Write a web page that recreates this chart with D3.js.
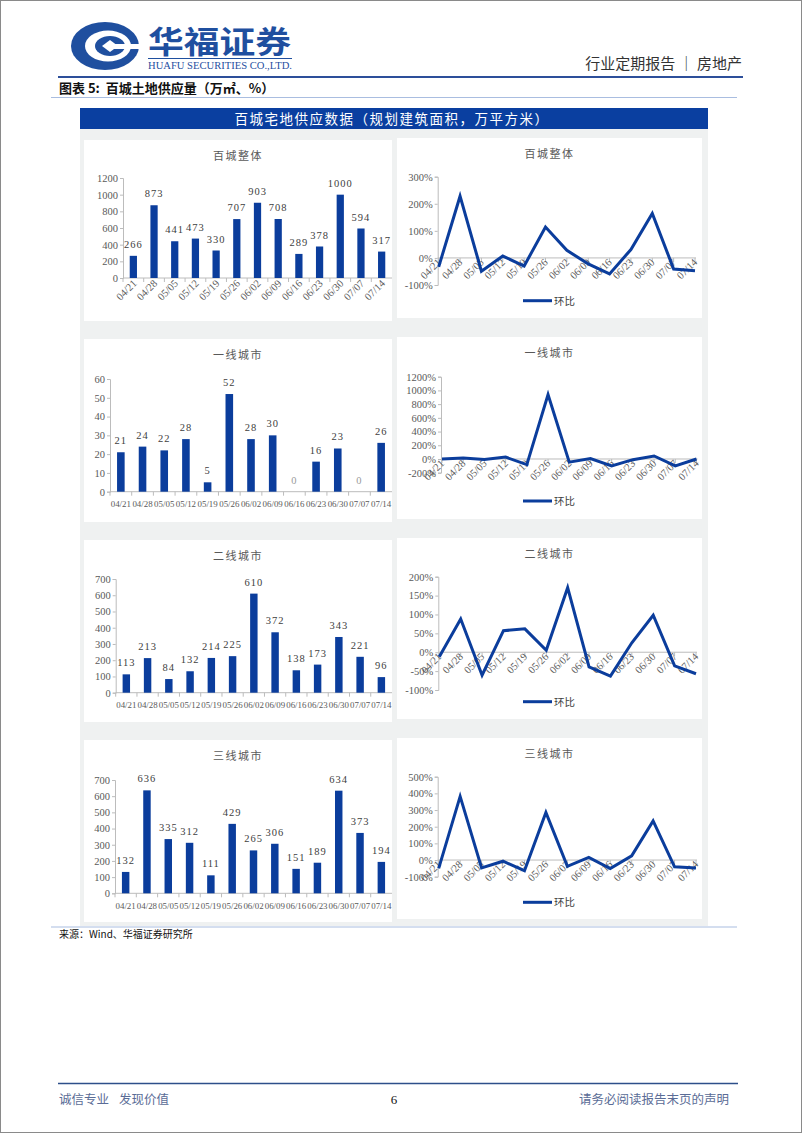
<!DOCTYPE html>
<html><head><meta charset="utf-8">
<script src="https://cdn.jsdelivr.net/npm/d3@7"></script>
<style>
body{margin:0;background:#fff;}
svg{display:block;}
text{white-space:pre;}
</style></head>
<body>
<svg id="page" width="802" height="1133"></svg>
<script>
// ---------- DATA ----------
const categories = ["04/21","04/28","05/05","05/12","05/19","05/26","06/02","06/09","06/16","06/23","06/30","07/07","07/14"];
const totalSupply = [266, 873, 441, 473, 330, 707, 903, 708, 289, 378, 1000, 594, 317];
const totalMoM    = [-33, 228, -49, 7, -30, 114, 28, -22, -59, 31, 164, -41, -47];
const tier1Supply = [21, 24, 22, 28, 5, 52, 28, 30, 0, 16, 23, 0, 26];
const tier1MoM    = [0, 14, -8, 27, -82, 940, -46, 7, -100, -10, 44, -100, 0];
const tier2Supply = [113, 213, 84, 132, 214, 225, 610, 372, 138, 173, 343, 221, 96];
const tier2MoM    = [-12, 88, -61, 57, 62, 5, 171, -39, -63, 25, 98, -36, -57];
const tier3Supply = [132, 636, 335, 312, 111, 429, 265, 306, 151, 189, 634, 373, 194];
const tier3MoM    = [-50, 382, -47, -7, -64, 286, -38, 16, -51, 25, 235, -41, -48];

const chartTitles = ["百城整体", "一线城市", "二线城市", "三线城市"];
const totalTicks = [0, 200, 400, 600, 800, 1000, 1200];
const tier1Ticks = [0, 10, 20, 30, 40, 50, 60];
const tier2Ticks = [0, 100, 200, 300, 400, 500, 600, 700];
const tier3Ticks = [0, 100, 200, 300, 400, 500, 600, 700];
const totalMoMTicks = [-100, 0, 100, 200, 300];
const tier1MoMTicks = [-200, 0, 200, 400, 600, 800, 1000, 1200];
const tier2MoMTicks = [-100, -50, 0, 50, 100, 150, 200];
const tier3MoMTicks = [-100, 0, 100, 200, 300, 400, 500];
const legendLabel = "环比";

// ---------- STYLE ----------
const BLUE = "#0b3d9c";
const AXIS = "#bcbcbc";
const TXT = "#595959";
const SERIF = "'Liberation Serif','DejaVu Serif',serif";
const CJK = "'Noto Sans CJK SC','Noto Sans',sans-serif";

const svg = d3.select("#page");

// page border
svg.append("rect").attr("x",0.5).attr("y",0.5).attr("width",801).attr("height",1132)
  .attr("fill","#fff").attr("stroke","#8a8a8a");

// ---------- HEADER ----------
const logo = svg.append("g");
logo.append("ellipse").attr("cx",105).attr("cy",46).attr("rx",34).attr("ry",24).attr("fill","#1f4f9f");
logo.append("ellipse").attr("cx",108).attr("cy",46).attr("rx",23).attr("ry",15.5).attr("fill","#fff");
logo.append("ellipse").attr("cx",110).attr("cy",46).attr("rx",15).attr("ry",10).attr("fill","#1f4f9f");
logo.append("path").attr("d","M110,40 L118,46 L110,52 L102,46 Z").attr("fill","#fff");
logo.append("rect").attr("x",112).attr("y",44).attr("width",28).attr("height",5).attr("fill","#fff");

svg.append("text").attr("x",148).attr("y",53).attr("font-family",CJK).attr("font-weight","bold")
  .attr("font-size",31).attr("fill","#1f4f9f").attr("textLength",143).attr("lengthAdjust","spacingAndGlyphs")
  .text("华福证券");
svg.append("line").attr("x1",148).attr("x2",292).attr("y1",58.5).attr("y2",58.5).attr("stroke","#1f4f9f").attr("stroke-width",1);
svg.append("text").attr("x",148).attr("y",69).attr("font-family",SERIF).attr("font-size",10.5)
  .attr("fill","#1f4f9f").attr("textLength",144).attr("lengthAdjust","spacingAndGlyphs")
  .text("HUAFU SECURITIES CO.,LTD.");

svg.append("text").attr("x",742).attr("y",69).attr("text-anchor","end").attr("font-family",CJK)
  .attr("font-size",15).attr("fill","#333").text("行业定期报告 ｜ 房地产");

svg.append("line").attr("x1",58).attr("x2",743).attr("y1",77).attr("y2",77).attr("stroke","#2d4f9a").attr("stroke-width",2);
svg.append("text").attr("x",59).attr("y",93).attr("font-family",CJK).attr("font-weight","bold")
  .attr("font-size",13).attr("fill","#111").text("图表 5:  百城土地供应量（万㎡、%）");
svg.append("line").attr("x1",51).attr("x2",737).attr("y1",97.5).attr("y2",97.5).attr("stroke","#a9bde0").attr("stroke-width",1);

// chart container
svg.append("rect").attr("x",80).attr("y",108).attr("width",628).attr("height",818).attr("fill","#eff1f1");
svg.append("rect").attr("x",80).attr("y",108).attr("width",628).attr("height",21).attr("fill","#0a3fa0");
svg.append("text").attr("x",392).attr("y",123.5).attr("text-anchor","middle").attr("font-family",CJK)
  .attr("font-size",13.5).attr("fill","#fff").attr("letter-spacing",1.5)
  .text("百城宅地供应数据（规划建筑面积，万平方米）");

// footer
svg.append("line").attr("x1",51).attr("x2",737).attr("y1",927).attr("y2",927).attr("stroke","#a9bde0").attr("stroke-width",1);
svg.append("text").attr("x",59).attr("y",938).attr("font-family",CJK).attr("font-size",10).attr("fill","#111")
  .text("来源：Wind、华福证券研究所");
svg.append("line").attr("x1",58).attr("x2",738).attr("y1",1083.5).attr("y2",1083.5).attr("stroke","#2d4f8a").attr("stroke-width",1.6);
svg.append("text").attr("x",59).attr("y",1104).attr("font-family",CJK).attr("font-size",12.5).attr("fill","#5a6c96")
  .text("诚信专业");
svg.append("text").attr("x",119).attr("y",1104).attr("font-family",CJK).attr("font-size",12.5).attr("fill","#5a6c96")
  .text("发现价值");
svg.append("text").attr("x",394).attr("y",1104).attr("text-anchor","middle").attr("font-family",SERIF).attr("font-size",13).attr("fill","#111")
  .text("6");
svg.append("text").attr("x",729).attr("y",1104).attr("text-anchor","end").attr("font-family",CJK).attr("font-size",12.5).attr("fill","#5a6c96")
  .text("请务必阅读报告末页的声明");

// ---------- CHART HELPERS ----------
function panel(x0, y0, x1, y1){
  svg.append("rect").attr("x",x0).attr("y",y0).attr("width",x1-x0).attr("height",y1-y0).attr("fill","#fff");
}
function title(cx, cy, t){
  svg.append("text").attr("x",cx).attr("y",cy+4).attr("text-anchor","middle").attr("font-family",CJK)
    .attr("font-size",11).attr("letter-spacing",1.5).attr("fill",TXT).text(t);
}

function barChart(cfg){
  const g = svg.append("g");
  const x = d3.scaleBand().domain(categories).range([cfg.left, cfg.right]).paddingInner(0.65).paddingOuter(0.325);
  const y = d3.scaleLinear().domain([0, d3.max(cfg.ticks)]).range([cfg.zero, cfg.top]);
  const step = x.step(), gap = (step - x.bandwidth())/2;

  const ya = d3.axisLeft(y).tickValues(cfg.ticks).tickSize(3).tickPadding(2).tickFormat(d3.format("d"));
  const yg = g.append("g").attr("transform",`translate(${cfg.left},0)`).call(ya);
  yg.select(".domain").attr("stroke",AXIS);
  yg.selectAll(".tick line").attr("stroke",AXIS);
  yg.selectAll(".tick text").attr("font-family",SERIF).attr("font-size",10.5).attr("fill",TXT);

  g.append("line").attr("x1",cfg.left).attr("x2",cfg.right).attr("y1",cfg.zero).attr("y2",cfg.zero).attr("stroke",AXIS);
  g.selectAll(".bt").data(categories).join("line")
    .attr("x1",d=>x(d)-gap).attr("x2",d=>x(d)-gap).attr("y1",cfg.zero).attr("y2",cfg.zero+4).attr("stroke",AXIS);

  g.selectAll(".bar").data(cfg.values).join("rect")
    .attr("x",(d,i)=>x(categories[i])).attr("width",x.bandwidth())
    .attr("y",d=>y(d)).attr("height",d=>cfg.zero-y(d)).attr("fill",BLUE);

  g.selectAll(".vl").data(cfg.values).join("text")
    .attr("x",(d,i)=>x(categories[i])+x.bandwidth()/2).attr("y",d=>y(d)-8)
    .attr("text-anchor","middle").attr("font-family",SERIF).attr("font-size",10.5).attr("letter-spacing",1)
    .attr("fill",d=>d===0?"#9a9a9a":"#404040").text(d=>d);

  if(cfg.rotate){
    g.selectAll(".xl").data(categories).join("text")
      .attr("transform",d=>`translate(${x(d)+x.bandwidth()/2+4},${cfg.zero+6}) rotate(-45)`)
      .attr("text-anchor","end").attr("font-family",SERIF).attr("font-size",10.5).attr("fill",TXT).text(d=>d);
  } else {
    g.selectAll(".xl").data(categories).join("text")
      .attr("x",d=>x(d)+x.bandwidth()/2).attr("y",cfg.labelY+4)
      .attr("text-anchor","middle").attr("font-family",SERIF).attr("font-size",8.9)
      .attr("fill",TXT).text(d=>d);
  }
}

function lineChart(cfg){
  const g = svg.append("g");
  const x = d3.scalePoint().domain(categories).range([cfg.left+1, cfg.right]);
  const y = d3.scaleLinear().domain([d3.min(cfg.ticks), d3.max(cfg.ticks)]).range([cfg.bottom, cfg.top]);
  const z = y(0);

  const ya = d3.axisLeft(y).tickValues(cfg.ticks).tickSize(3).tickPadding(2).tickFormat(d=>d+"%");
  const yg = g.append("g").attr("transform",`translate(${cfg.left},0)`).call(ya);
  yg.select(".domain").attr("stroke",AXIS);
  yg.selectAll(".tick line").attr("stroke",AXIS);
  yg.selectAll(".tick text").attr("font-family",SERIF).attr("font-size",10.5).attr("fill",TXT);

  g.append("line").attr("x1",cfg.left).attr("x2",cfg.right+1).attr("y1",z).attr("y2",z).attr("stroke",AXIS);
  g.selectAll(".pt").data(categories).join("line")
    .attr("x1",d=>x(d)).attr("x2",d=>x(d)).attr("y1",z).attr("y2",z+4).attr("stroke",AXIS);

  g.selectAll(".xl").data(categories).join("text")
    .attr("transform",d=>`translate(${x(d)+3},${z+5}) rotate(-45)`)
    .attr("text-anchor","end").attr("font-family",SERIF).attr("font-size",10.5).attr("fill",TXT).text(d=>d);

  const line = d3.line().x((d,i)=>x(categories[i])).y(d=>y(d));
  g.append("path").datum(cfg.values).attr("d",line).attr("fill","none")
    .attr("stroke",BLUE).attr("stroke-width",3).attr("stroke-linejoin","miter");

  g.append("line").attr("x1",523).attr("x2",552).attr("y1",cfg.legendY).attr("y2",cfg.legendY)
    .attr("stroke",BLUE).attr("stroke-width",3);
  g.append("text").attr("x",554).attr("y",cfg.legendY+4).attr("font-family",CJK).attr("font-size",10.5)
    .attr("fill","#404040").text(legendLabel);
}

// ---------- ROWS ----------
const rows = [
  {py0:140, py1:321, title:chartTitles[0],
   bar:{values:totalSupply, ticks:totalTicks, left:123, right:392, top:178, zero:278, rotate:true},
   line:{values:totalMoM, ticks:totalMoMTicks, left:437.7, right:695, top:176.7, bottom:285, legendY:300.7}},
  {py0:339, py1:522, title:chartTitles[1],
   bar:{values:tier1Supply, ticks:tier1Ticks, left:110, right:392, top:379, zero:491.7, labelY:503},
   line:{values:tier1MoM, ticks:tier1MoMTicks, left:441, right:696.5, top:376.7, bottom:472.7, legendY:501}},
  {py0:540, py1:722, title:chartTitles[2],
   bar:{values:tier2Supply, ticks:tier2Ticks, left:115.7, right:392, top:579, zero:692.7, labelY:704},
   line:{values:tier2MoM, ticks:tier2MoMTicks, left:438.3, right:696, top:576.7, bottom:690, legendY:701.7}},
  {py0:740, py1:922, title:chartTitles[3],
   bar:{values:tier3Supply, ticks:tier3Ticks, left:115, right:392, top:780, zero:893.3, labelY:905},
   line:{values:tier3MoM, ticks:tier3MoMTicks, left:437.7, right:696, top:776.7, bottom:876.7, legendY:902.3}}
];

rows.forEach(r=>{
  panel(84, r.py0, 392, r.py1);
  panel(397, r.py0-2, 702, r.py1-3);
  title(238, r.py0+16, r.title);
  title(549.5, r.py0+14, r.title);
  barChart(r.bar);
  lineChart(r.line);
});
</script>
</body></html>
